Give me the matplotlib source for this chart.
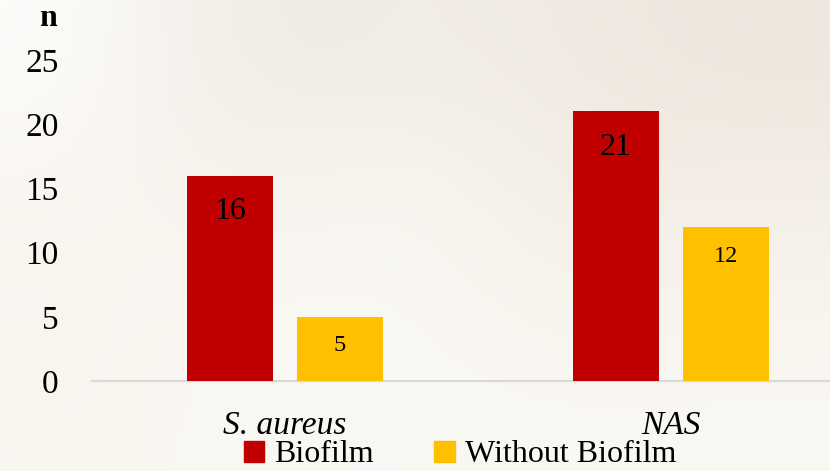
import numpy as np
import matplotlib.pyplot as plt
from matplotlib.patches import Patch

categories = ["S. aureus", "NAS"]
series_names = ["Biofilm", "Without Biofilm"]
biofilm = [16, 21]
without_biofilm = [5, 12]
yticks = [0, 5, 10, 15, 20, 25]

red = "#C00000"
yellow = "#FFC000"

plt.rcParams['font.family'] = ['Liberation Serif', 'DejaVu Serif']

fig = plt.figure(figsize=(8.3, 4.71), dpi=100)

# soft photographic background approximation
bg = fig.add_axes([0, 0, 1, 1], zorder=-10)
grid = np.array([
    [[253, 252, 250], [238, 234, 227], [242, 237, 230], [239, 233, 225], [237, 230, 221]],
    [[250, 247, 242], [245, 241, 235], [249, 246, 241], [242, 236, 227], [243, 237, 229]],
    [[248, 244, 238], [250, 248, 244], [250, 248, 244], [246, 242, 236], [248, 244, 238]],
    [[249, 246, 240], [250, 248, 243], [250, 248, 243], [250, 248, 243], [250, 248, 243]],
], dtype=float) / 255.0
bg.imshow(grid, aspect='auto', interpolation='bicubic', extent=[0, 1, 0, 1])
bg.set_axis_off()

ax = fig.add_axes([92 / 830, 1 - 381 / 471, 1 - 92 / 830, (381 - 60) / 471])
ax.patch.set_alpha(0)

x = np.arange(len(categories))
w = 0.2228
off = 0.1425
b1 = ax.bar(x - off, biofilm, w, color=red, label=series_names[0], zorder=3)
b2 = ax.bar(x + off, without_biofilm, w, color=yellow, label=series_names[1], zorder=3)

for rect, v in zip(b1, biofilm):
    ax.annotate(str(v), (rect.get_x() + rect.get_width() / 2, v), xytext=(0, -26),
                textcoords='offset points', ha='center', va='center', fontsize=23, color='black')
for rect, v in zip(b2, without_biofilm):
    ax.annotate(str(v), (rect.get_x() + rect.get_width() / 2, v), xytext=(0, -21),
                textcoords='offset points', ha='center', va='center', fontsize=17.5, color='black')

ax.set_xlim(-0.5, 1.412)
ax.set_ylim(0, 25)
ax.set_yticks(yticks)
ax.set_yticklabels([str(t) for t in yticks], fontsize=24)
ax.tick_params(axis='y', length=0, pad=24)
ax.set_xticks(x)
ax.set_xticklabels(categories, fontsize=24, style='italic')
ax.tick_params(axis='x', length=0, pad=21)

for s in ['top', 'right', 'left']:
    ax.spines[s].set_visible(False)
ax.spines['bottom'].set_color('#d9d9d9')
ax.spines['bottom'].set_linewidth(1.5)

fig.text(48 / 830, 1 - 19 / 471, "n", fontsize=23, fontweight='bold', ha='center', va='center')

handles = [Patch(color=red), Patch(color=yellow)]
fig.legend(handles, series_names, loc='center', bbox_to_anchor=(0.554, 1 - 455 / 471),
           ncol=2, frameon=False, fontsize=23, handlelength=0.65, handleheight=0.65,
           handletextpad=0.3, columnspacing=1.9, borderpad=0, borderaxespad=0)

fig.savefig("out.png", dpi=100)
